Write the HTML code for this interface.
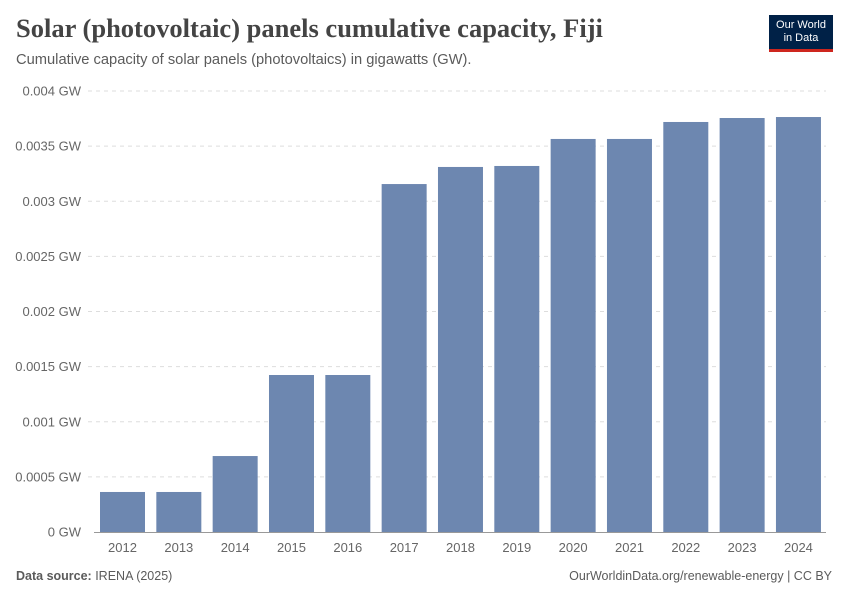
<!DOCTYPE html>
<html><head><meta charset="utf-8"><style>
body{margin:0;width:850px;height:600px;background:#fff;font-family:"Liberation Sans",sans-serif;overflow:hidden;position:relative}
.title{position:absolute;left:16px;top:13px;font-family:"Liberation Serif",serif;font-size:26.5px;font-weight:bold;color:#444}
.sub{position:absolute;left:16px;top:52px;font-size:14.7px;color:#5b5b5b}
.logo{position:absolute;left:769px;top:15px;width:64px;height:37px;background:#002147;color:#fff;font-size:11px;text-align:center;line-height:13px;padding-top:4px;box-sizing:border-box;border-bottom:3px solid #ce261e}
.foot{position:absolute;top:569px;font-size:12.5px;color:#5b5b5b}
</style></head><body>
<div class="title">Solar (photovoltaic) panels cumulative capacity, Fiji</div>
<div class="sub">Cumulative capacity of solar panels (photovoltaics) in gigawatts (GW).</div>
<div class="logo">Our World<br>in Data</div>
<div class="foot" style="left:16px"><b>Data source:</b> IRENA (2025)</div>
<div class="foot" style="right:18px">OurWorldinData.org/renewable-energy | CC BY</div>
<svg id="chart" width="850" height="600" style="position:absolute;left:0;top:0"></svg>
<script>
const years=["2012","2013","2014","2015","2016","2017","2018","2019","2020","2021","2022","2023","2024"];
const values=[0.000363,0.000363,0.000689,0.001424,0.001424,0.003156,0.003311,0.00332,0.003565,0.003565,0.003719,0.003755,0.003764];
const ticks=[0,0.0005,0.001,0.0015,0.002,0.0025,0.003,0.0035,0.004];
const tickLabels=["0 GW","0.0005 GW","0.001 GW","0.0015 GW","0.002 GW","0.0025 GW","0.003 GW","0.0035 GW","0.004 GW"];
const svg=document.getElementById('chart');const NS='http://www.w3.org/2000/svg';
const y0=532,y1=91,vmax=0.004;
const y=v=>y0-(v/vmax)*(y0-y1);
const step=56.33,x0=122.5,bw=45;
const x=i=>x0+i*step;
function mk(t,a,txt){const e=document.createElementNS(NS,t);for(const k in a)e.setAttribute(k,a[k]);if(txt!==undefined)e.textContent=txt;svg.appendChild(e);return e;}
ticks.forEach((t,i)=>{
 if(i>0){const g=mk('line',{x1:88,x2:826,y1:y(t),y2:y(t),stroke:'#ddd','stroke-dasharray':'4,4'});
 
 }
 const l=mk('text',{x:81,y:y(t)+4.5,'text-anchor':'end','font-size':'13',fill:'#666','font-family':'Liberation Sans, sans-serif'},tickLabels[i]);
 
 
});
values.forEach((v,i)=>{
 const r=mk('rect',{x:x(i)-bw/2,y:y(v),width:bw,height:y0-y(v),fill:'#6d87b0'});
 
 
 const t=mk('text',{x:x(i),y:552,'text-anchor':'middle','font-size':'13',fill:'#666','font-family':'Liberation Sans, sans-serif'},years[i]);
 
 
});
const ax=mk('line',{x1:94,x2:826,y1:y0+0.5,y2:y0+0.5,stroke:'#999'});


</script>
</body></html>
